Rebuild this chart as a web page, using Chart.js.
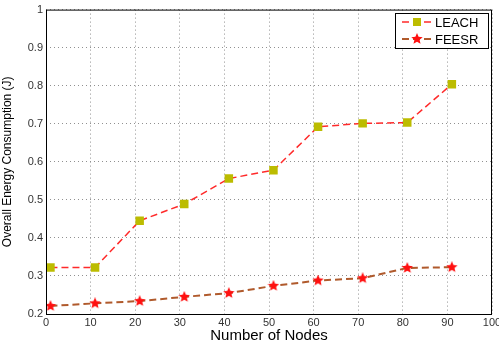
<!DOCTYPE html>
<html>
<head>
<meta charset="utf-8">
<script src="https://cdn.jsdelivr.net/npm/chart.js@4.4.0/dist/chart.umd.min.js"></script>
<style>
  body { margin: 0; background: #fff; }
  #chart { display: block; }
</style>
</head>
<body>
<canvas id="chart" width="499" height="347"></canvas>
<script>
const nodes = [1, 11, 21, 31, 41, 51, 61, 71, 81, 91];
const leach = [0.322, 0.322, 0.445, 0.489, 0.556, 0.578, 0.692, 0.701, 0.703, 0.804];
const feesr = [0.221, 0.228, 0.234, 0.245, 0.255, 0.274, 0.288, 0.294, 0.321, 0.323];
const xTicks = [0, 10, 20, 30, 40, 50, 60, 70, 80, 90, 100];
const yTicks = [0.2, 0.3, 0.4, 0.5, 0.6, 0.7, 0.8, 0.9, 1];

const FONT = '"Liberation Sans", Arial, sans-serif';

// red five-point star used as marker
function starImage(size, color) {
    const c = document.createElement('canvas');
    c.width = size; c.height = size;
    const g = c.getContext('2d');
    const cx = size / 2, cy = size / 2, R = size / 2, r = R * 0.45;
    g.beginPath();
    for (let i = 0; i < 10; i++) {
        const a = -Math.PI / 2 + i * Math.PI / 5;
        const rad = i % 2 === 0 ? R : r;
        g.lineTo(cx + rad * Math.cos(a), cy + rad * Math.sin(a));
    }
    g.closePath();
    g.fillStyle = color;
    g.fill();
    return c;
}
const star = starImage(12, '#ff1010');

const toPoints = (xs, ys) => xs.map((x, i) => ({ x: x, y: ys[i] }));

// box around plot + legend inside top right
const boxPlugin = {
    id: 'boxLegend',
    afterDraw(chart) {
        const { ctx, chartArea: a } = chart;
        ctx.save();
        ctx.strokeStyle = '#000';
        ctx.lineWidth = 1;
        ctx.strokeRect(a.left + 0.5, a.top + 0.5, a.right - a.left - 1, a.bottom - a.top);

        const lx = 395, ly = 13, lw = 93, lh = 35;
        ctx.fillStyle = '#fff';
        ctx.fillRect(lx, ly, lw, lh);
        ctx.strokeRect(lx + 0.5, ly + 0.5, lw, lh);

        chart.data.datasets.forEach((ds, i) => {
            const y = ly + 9 + i * 17;
            ctx.strokeStyle = ds.borderColor;
            ctx.lineWidth = ds.borderWidth;
            ctx.setLineDash(ds.borderDash);
            ctx.beginPath();
            ctx.moveTo(lx + 7, y);
            ctx.lineTo(lx + 37, y);
            ctx.stroke();
            ctx.setLineDash([]);
            if (i === 0) {
                ctx.fillStyle = ds.pointBackgroundColor;
                ctx.fillRect(lx + 18, y - 4, 8, 8);
            } else {
                ctx.drawImage(star, lx + 16, y - 6);
            }
            ctx.fillStyle = '#000';
            ctx.font = '13px ' + FONT;
            ctx.textBaseline = 'middle';
            ctx.fillText(ds.label, lx + 40, y + 1);
        });
        ctx.restore();
    }
};

new Chart(document.getElementById('chart'), {
    type: 'line',
    data: {
        datasets: [
            {
                label: 'LEACH',
                data: toPoints(nodes, leach),
                borderColor: '#ff2a2a',
                borderWidth: 1.5,
                borderDash: [7, 4],
                pointStyle: 'rect',
                pointRadius: 6,
                pointBackgroundColor: '#bcbc00',
                pointBorderColor: '#bcbc00',
                pointBorderWidth: 0,
                tension: 0
            },
            {
                label: 'FEESR',
                data: toPoints(nodes, feesr),
                borderColor: '#b05a2c',
                borderWidth: 2,
                borderDash: [7, 4],
                pointStyle: star,
                tension: 0
            }
        ]
    },
    options: {
        responsive: false,
        animation: false,
        layout: { padding: { top: 9, right: 7, left: 0, bottom: 2 } },
        plugins: { legend: { display: false }, tooltip: { enabled: false } },
        scales: {
            x: {
                type: 'linear',
                min: 0, max: 100,
                afterBuildTicks: s => { s.ticks = xTicks.map(v => ({ value: v })); },
                afterFit: s => { s.height = 31; s.paddingRight = 0; s.paddingLeft = 0; },
                ticks: { color: '#333', font: { family: FONT, size: 11 }, padding: 2, maxRotation: 0 },
                grid: { color: '#909090', tickLength: 0, drawTicks: false },
                border: { display: false, dash: [1, 3] },
                title: { display: true, text: 'Number of Nodes', color: '#000', font: { family: FONT, size: 15 }, padding: { top: 1, bottom: 0 } }
            },
            y: {
                min: 0.2, max: 1,
                afterBuildTicks: s => { s.ticks = yTicks.map(v => ({ value: v })); },
                afterFit: s => { s.width = 46; },
                ticks: { color: '#333', font: { family: FONT, size: 11 }, padding: 3, callback: v => String(+v.toFixed(1)) },
                grid: { color: '#909090', drawTicks: false },
                border: { display: false, dash: [1, 3] },
                title: { display: true, text: 'Overall Energy Consumption (J)', color: '#000', font: { family: FONT, size: 12 }, padding: { top: 0, bottom: 2 } }
            }
        }
    },
    plugins: [boxPlugin]
});
</script>
</body>
</html>
